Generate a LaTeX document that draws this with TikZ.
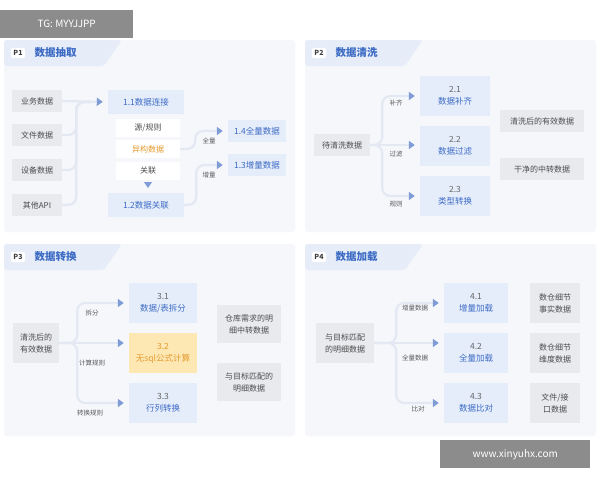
\documentclass[tikz,border=0pt]{standalone}
\usepackage{fontspec}
\setmainfont{Noto Sans CJK SC}
\usetikzlibrary{positioning,arrows.meta}
\definecolor{panelbg}{HTML}{F5F7FB}
\definecolor{tabbg}{HTML}{E6EDF9}
\definecolor{bluebox}{HTML}{E5EDFB}
\definecolor{bluetxt}{HTML}{3D6BC4}
\definecolor{graybox}{HTML}{E9EAEE}
\definecolor{linec}{HTML}{E3E8F2}
\definecolor{tipc}{HTML}{7F9CD6}
\definecolor{yellowbox}{HTML}{FDE8B4}
\definecolor{yellowtxt}{HTML}{E39A2C}
\tikzset{
  src/.style={fill=graybox, text=black!70, font=\fontsize{8}{9}\selectfont, minimum height=22pt, inner sep=2pt, align=center},
  step box/.style={fill=bluebox, text=bluetxt, font=\fontsize{8.5}{12}\selectfont, minimum height=24pt, inner sep=2pt, align=center},
  res/.style={fill=graybox, text=black!70, font=\fontsize{8}{12}\selectfont, inner sep=2pt, align=center},
  mid/.style={fill=white, text=black!70, font=\fontsize{8}{9}\selectfont, minimum width=64pt, minimum height=18pt, inner sep=1pt},
  lbl/.style={text=black!65, font=\fontsize{6.5}{7}\selectfont, inner sep=1pt},
  link/.style={draw=linec, line width=2.2pt, rounded corners=8pt},
  tip/.style={draw=linec, line width=2.2pt, rounded corners=8pt, -{Triangle[length=6pt,width=8pt,color=tipc]}, shorten >=5pt},
  panel/.style={fill=panelbg, rounded corners=3pt},
  pmark/.style={fill=white, rounded corners=2pt, text=black!75, font=\fontsize{7}{8}\selectfont\bfseries, inner sep=2.5pt},
  ptitle/.style={text=bluetxt, font=\fontsize{10.5}{12}\selectfont\bfseries, anchor=west}
}
\newcommand{\numtxt}[1]{\textcolor{black!60}{#1}}
\newcommand{\paneltab}[4]{% x, y, P label, title
  \fill[panel] (#1,#2) rectangle ++(291,192);
  \fill[tabbg, rounded corners=3pt] (#1,#2+26) -- (#1,#2) -- (#1+118,#2) -- (#1+100,#2+26) -- cycle;
  \node[pmark] at (#1+14,#2+13) {#3};
  \node[ptitle] at (#1+27,#2+13) {#4};
}
\begin{document}
\begin{tikzpicture}[x=1pt,y=-1pt]
  \useasboundingbox (0,0) rectangle (600,480);
  \fill[white] (0,0) rectangle (600,480);

  % panels and headers
  \paneltab{4}{40}{P1}{数据抽取}
  \paneltab{305}{40}{P2}{数据清洗}
  \paneltab{4}{244}{P3}{数据转换}
  \paneltab{305}{244}{P4}{数据加载}

  % P1
  \node[src, minimum width=50pt] (biz) at (37,101) {业务数据};
  \node[src, minimum width=50pt] (file) at (37,135) {文件数据};
  \node[src, minimum width=50pt] (dev) at (37,170) {设备数据};
  \node[src, minimum width=50pt] (api) at (37,205) {其他API};
  \node[step box, minimum width=76pt] (conn) at (146,102) {1.1数据连接};
  \node[mid] (rule) at (148,128) {源/规则};
  \node[mid, text=yellowtxt] (hetero) at (148,149) {异构数据};
  \node[mid] (assoc) at (148,171) {关联};
  \node[step box, minimum width=76pt] (join) at (146,205) {1.2数据关联};
  \node[step box, minimum width=58pt, minimum height=22pt] (full) at (257,131) {1.4全量数据};
  \node[step box, minimum width=58pt, minimum height=22pt] (incr) at (257,165) {1.3增量数据};
  \coordinate (merge) at (90,102);
  \draw[link] (file.east) -- ++(14,0) |- (merge);
  \draw[link] (dev.east) -- ++(14,0) |- (merge);
  \draw[link] (api.east) -- ++(14,0) |- (merge);
  \draw[tip] (biz.east) -- (conn.west);
  \draw[tip] (join.east) -- ++(12,0) |- (incr.west);
  \draw[tip] (hetero.east) -- ++(15,0) |- (full.west);
  \fill[tipc] (144,182) -- (152,182) -- (148,188) -- cycle;
  \node[lbl] at (209,141) {全量};
  \node[lbl] at (209,175) {增量};

  % P2
  \node[src, minimum width=56pt] (raw) at (342,145) {待清洗数据};
  \node[step box, minimum width=70pt, minimum height=40pt] (fill) at (455,96) {\numtxt{2.1}\\数据补齐};
  \node[step box, minimum width=70pt, minimum height=40pt] (filter) at (455,146) {\numtxt{2.2}\\数据过滤};
  \node[step box, minimum width=70pt, minimum height=40pt] (cast) at (455,196) {\numtxt{2.3}\\类型转换};
  \node[res, minimum width=84pt, minimum height=22pt] (valid) at (542,121) {清洗后的有效数据};
  \node[res, minimum width=84pt, minimum height=22pt] (clean) at (542,169) {干净的中转数据};
  \draw[tip] (raw.east) -- ++(12,0) |- (fill.west);
  \draw[tip] (raw.east) -- (filter.west |- raw.east);
  \draw[tip] (raw.east) -- ++(12,0) |- (cast.west);
  \node[lbl] at (396,103) {补齐};
  \node[lbl] at (396,154) {过滤};
  \node[lbl] at (396,204) {规则};

  % P3
  \node[src, minimum width=46pt, minimum height=40pt, font=\fontsize{8}{12}\selectfont] (cleaned) at (36,343) {清洗后的\\有效数据};
  \node[step box, minimum width=68pt, minimum height=40pt] (split) at (163,303) {\numtxt{3.1}\\数据/表拆分};
  \node[step box, minimum width=68pt, minimum height=40pt, fill=yellowbox, text=yellowtxt] (calc) at (163,353) {3.2\\无sql公式计算};
  \node[step box, minimum width=68pt, minimum height=40pt] (pivot) at (163,403) {\numtxt{3.3}\\行列转换};
  \node[res, minimum width=64pt, minimum height=38pt] (whneed) at (249,324) {仓库需求的明\\细中转数据};
  \node[res, minimum width=64pt, minimum height=38pt] (match) at (249,382) {与目标匹配的\\明细数据};
  \draw[tip] (cleaned.east) -- ++(18,0) |- (split.west);
  \draw[tip] (cleaned.east) -- (calc.west |- cleaned.east);
  \draw[tip] (cleaned.east) -- ++(18,0) |- (pivot.west);
  \node[lbl] at (92,313) {拆分};
  \node[lbl] at (92,363) {计算规则};
  \node[lbl] at (90,413) {转换规则};

  % P4
  \node[src, minimum width=58pt, minimum height=40pt, font=\fontsize{8}{12}\selectfont] (target) at (345,343) {与目标匹配\\的明细数据};
  \node[step box, minimum width=64pt, minimum height=40pt] (incload) at (476,303) {\numtxt{4.1}\\增量加载};
  \node[step box, minimum width=64pt, minimum height=40pt] (fullload) at (476,353) {\numtxt{4.2}\\全量加载};
  \node[step box, minimum width=64pt, minimum height=40pt] (compare) at (476,403) {\numtxt{4.3}\\数据比对};
  \node[res, minimum width=50pt, minimum height=40pt] (fact) at (555,303) {数仓细节\\事实数据};
  \node[res, minimum width=50pt, minimum height=40pt] (dim) at (555,353) {数仓细节\\维度数据};
  \node[res, minimum width=50pt, minimum height=40pt] (iface) at (555,403) {文件/接\\口数据};
  \draw[tip] (target.east) -- ++(22,0) |- (incload.west);
  \draw[tip] (target.east) -- (fullload.west |- target.east);
  \draw[tip] (target.east) -- ++(22,0) |- (compare.west);
  \node[lbl] at (415,308) {增量数据};
  \node[lbl] at (415,358) {全量数据};
  \node[lbl] at (418,409) {比对};

  % watermarks
  \node[fill=black!45, text=white, font=\fontsize{10}{12}\selectfont, minimum width=133pt, minimum height=28pt, anchor=north west] (tg) at (0,10) {TG: MYYJJPP};
  \node[fill=black!45, text=white, font=\fontsize{10}{12}\selectfont, minimum width=150pt, minimum height=28pt, anchor=north west] (site) at (440,440) {www.xinyuhx.com};
\end{tikzpicture}
\end{document}
